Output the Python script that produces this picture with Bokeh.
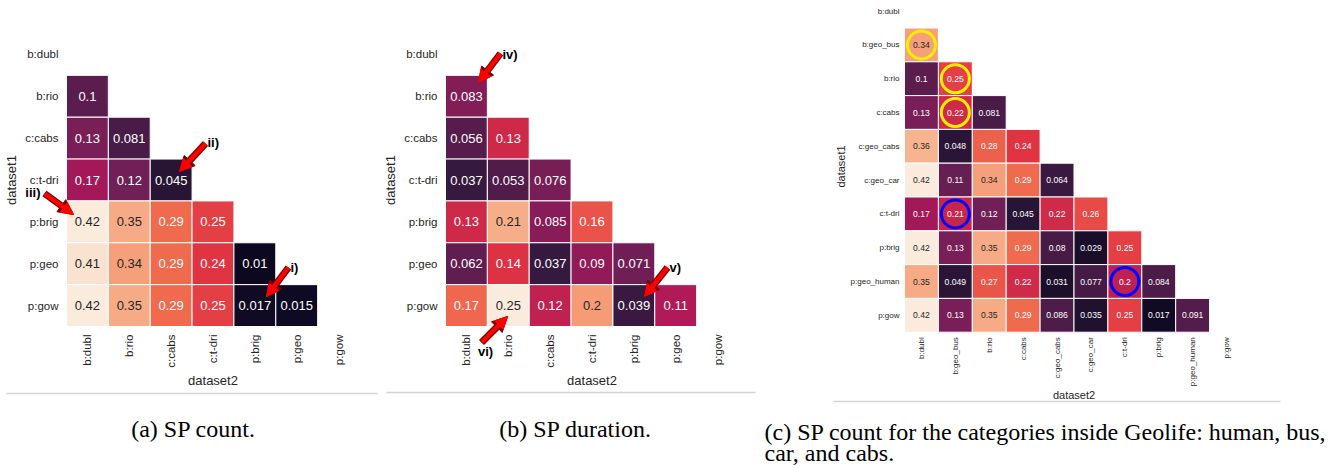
import numpy as np
from bokeh.plotting import figure
from bokeh.layouts import row
from bokeh.models import (ColumnDataSource, Range1d, FixedTicker, LinearColorMapper,
                          Label, Arrow, NormalHead)
from bokeh.embed import file_html
from bokeh.resources import INLINE
from bokeh.core.properties import value

# ---------------- data ----------------
labels_ab = ["b:dubl", "b:rio", "c:cabs", "c:t-dri", "p:brig", "p:geo", "p:gow"]
sp_count = [
    [],
    [0.1],
    [0.13, 0.081],
    [0.17, 0.12, 0.045],
    [0.42, 0.35, 0.29, 0.25],
    [0.41, 0.34, 0.29, 0.24, 0.01],
    [0.42, 0.35, 0.29, 0.25, 0.017, 0.015],
]
sp_duration = [
    [],
    [0.083],
    [0.056, 0.13],
    [0.037, 0.053, 0.076],
    [0.13, 0.21, 0.085, 0.16],
    [0.062, 0.14, 0.037, 0.09, 0.071],
    [0.17, 0.25, 0.12, 0.2, 0.039, 0.11],
]
labels_c = ["b:dubl", "b:geo_bus", "b:rio", "c:cabs", "c:geo_cabs", "c:geo_car",
            "c:t-dri", "p:brig", "p:geo_human", "p:gow"]
sp_count_geo = [
    [],
    [0.34],
    [0.1, 0.25],
    [0.13, 0.22, 0.081],
    [0.36, 0.048, 0.28, 0.24],
    [0.42, 0.11, 0.34, 0.29, 0.064],
    [0.17, 0.21, 0.12, 0.045, 0.22, 0.26],
    [0.42, 0.13, 0.35, 0.29, 0.08, 0.029, 0.25],
    [0.35, 0.049, 0.27, 0.22, 0.031, 0.077, 0.2, 0.084],
    [0.42, 0.13, 0.35, 0.29, 0.086, 0.035, 0.25, 0.017, 0.091],
]
# highlighted cells (dataset1, dataset2)
yellow_cells = [("b:geo_bus", "b:dubl"), ("b:rio", "b:geo_bus"), ("c:cabs", "b:geo_bus")]
blue_cells = [("c:t-dri", "b:geo_bus"), ("p:geo_human", "c:t-dri")]

captions = ["(a) SP count.", "(b) SP duration.",
            "(c) SP count for the categories inside Geolife: human, bus,", "car, and cabs."]

COLOR_LOW = 0.0  # colour scale starts at zero (diagonal of the similarity matrix)

# ---------------- colour map (rocket-like) ----------------
ROCKET = ["#03051a", "#35193e", "#701f57", "#ad1759", "#e13342", "#f37651", "#f6b48f", "#faebdd"]
stops = np.array([[int(h[i:i + 2], 16) for i in (1, 3, 5)] for h in ROCKET], dtype=float)
pos = np.linspace(0, 1, len(stops))
tt = np.linspace(0, 1, 256)
pal_rgb = np.stack([np.interp(tt, pos, stops[:, k]) for k in range(3)], axis=1)
palette = ["#%02x%02x%02x" % tuple(int(round(c)) for c in rgb) for rgb in pal_rgb]


def rel_lum(hexc):
    rgb = np.array([int(hexc[i:i + 2], 16) for i in (1, 3, 5)]) / 255.0
    lin = np.where(rgb <= 0.03928, rgb / 12.92, ((rgb + 0.055) / 1.055) ** 2.4)
    return float(lin @ np.array([0.2126, 0.7152, 0.0722]))


SANS = "Liberation Sans"
SERIF = "Liberation Serif"
DARK = "#262626"
PAGE_TOP, H = 0, 468


def dx(g, X):
    return (X - g["fl"]) / g["cx"] - 0.5


def dy(g, Y):
    return (Y - g["ft"]) / g["cy"] - 0.5


def heat(labels, vals, g):
    n = len(labels)
    flat = [v for r in vals for v in r]
    lo, hi = COLOR_LOW, max(flat)
    xs, ys, vs, ts, tcs = [], [], [], [], []
    for i, r in enumerate(vals):
        for j, v in enumerate(r):
            xs.append(j)
            ys.append(i)
            vs.append(v)
            ts.append(f"{v:.2g}")
            k = min(255, int((v - lo) / (hi - lo) * 256))
            tcs.append(DARK if rel_lum(palette[k]) > 0.408 else "#ffffff")
    src = ColumnDataSource(dict(x=xs, y=ys, v=vs, t=ts, tc=tcs))
    mapper = LinearColorMapper(palette=palette, low=lo, high=hi)
    W = g["w"]
    p = figure(width=W, height=H, min_border=0,
               x_range=Range1d(dx(g, g["cl"]), dx(g, g["cl"] + W)),
               y_range=Range1d(dy(g, PAGE_TOP + H), dy(g, PAGE_TOP)),
               output_backend="svg", toolbar_location=None, tools="")
    p.outline_line_color = None
    p.grid.visible = False
    p.background_fill_color = "white"
    p.border_fill_color = "white"
    p.rect(x="x", y="y", width=1, height=1, source=src,
           fill_color={"field": "v", "transform": mapper},
           line_color="white", line_width=1)
    p.text(x="x", y="y", text="t", text_color="tc", source=src,
           text_align="center", text_baseline="middle",
           text_font=value(SANS), text_font_size=g["fs_val"])
    for ax in (p.xaxis[0], p.yaxis[0]):
        ax.ticker = FixedTicker(ticks=list(range(n)), minor_ticks=[])
        ax.major_label_overrides = {i: lab for i, lab in enumerate(labels)}
        ax.bounds = (-0.5, n - 0.5)
        ax.fixed_location = n - 0.5 if ax is p.xaxis[0] else -0.5
        ax.axis_line_color = None
        ax.major_tick_line_color = None
        ax.minor_tick_line_color = None
        ax.major_tick_out = 0
        ax.major_tick_in = 0
        ax.minor_tick_out = 0
        ax.minor_tick_in = 0
        ax.major_label_text_font = SANS
        ax.major_label_text_font_size = g["fs_tick"]
        ax.major_label_text_color = DARK
        ax.major_label_standoff = g["tick_standoff"]
        ax.axis_label_text_font = SANS
        ax.axis_label_text_font_style = "normal"
        ax.axis_label_text_font_size = g["fs_axis"]
        ax.axis_label_text_color = DARK
    p.xaxis.major_label_orientation = np.pi / 2
    p.xaxis.axis_label = "dataset2"
    p.xaxis.axis_label_standoff = g["xlab_standoff"]
    p.yaxis.axis_label = "dataset1"
    p.yaxis.axis_label_standoff = g["ylab_standoff"]
    return p


def add_arrow(p, g, tail, head):
    x0, y0 = dx(g, tail[0]), dy(g, tail[1])
    x1, y1 = dx(g, head[0]), dy(g, head[1])
    p.add_layout(Arrow(x_start=x0, y_start=y0, x_end=x1, y_end=y1,
                       line_color="#7a0000", line_width=7,
                       end=NormalHead(size=15, fill_color="#7a0000", line_color="#7a0000")))
    p.add_layout(Arrow(x_start=x0, y_start=y0, x_end=x1, y_end=y1,
                       line_color="#ff0000", line_width=4.5,
                       end=NormalHead(size=12, fill_color="#ff0000", line_color="#ff0000")))


def add_text(p, g, X, Y, text, align="left", size="13px", font=SANS, style="bold",
             color="black", baseline="middle"):
    p.add_layout(Label(x=dx(g, X), y=dy(g, Y), text=text, text_align=align,
                       text_baseline=baseline, text_font=font, text_font_size=size,
                       text_font_style=style, text_color=color))


def add_rule(p, g, X0, X1, Y):
    p.add_layout(Arrow(x_start=dx(g, X0), y_start=dy(g, Y), x_end=dx(g, X1), y_end=dy(g, Y),
                       end=None, start=None, line_color="#d4d4d4", line_width=1.5))


def caption(p, g, X, Y, text, align):
    add_text(p, g, X, Y, text, align=align, size="24px", font=SERIF, style="normal",
             color="black", baseline="alphabetic")


# ---------------- panel geometry (page pixels) ----------------
cab = 293 / 7
gA = dict(cl=0, w=383, fl=66, ft=33, cx=cab, cy=cab,
          fs_tick="11.5px", fs_val="13px", fs_axis="13px",
          tick_standoff=8, xlab_standoff=2, ylab_standoff=3)
gB = dict(cl=383, w=377, fl=445, ft=33, cx=cab, cy=cab,
          fs_tick="11.5px", fs_val="13px", fs_axis="13px",
          tick_standoff=8, xlab_standoff=2, ylab_standoff=3)
gC = dict(cl=760, w=580, fl=904, ft=-6.3, cx=33.9, cy=33.8,
          fs_tick="8px", fs_val="8.6px", fs_axis="11px",
          tick_standoff=5, xlab_standoff=0, ylab_standoff=1)

# ---------------- panel (a) ----------------
pa = heat(labels_ab, sp_count, gA)
add_arrow(pa, gA, (205, 143), (179, 171))
add_text(pa, gA, 207, 142, "ii)")
add_arrow(pa, gA, (44, 193), (73, 214))
add_text(pa, gA, 40, 192, "iii)", align="right")
add_arrow(pa, gA, (288, 267), (266, 296))
add_text(pa, gA, 290, 267, "i)")
add_rule(pa, gA, 6, 377, 393)
caption(pa, gA, 193, 428, captions[0], "center")

# ---------------- panel (b) ----------------
pb = heat(labels_ab, sp_duration, gB)
add_arrow(pb, gB, (500, 53), (478, 82))
add_text(pb, gB, 502, 54, "iv)")
add_arrow(pb, gB, (667, 267), (644, 296))
add_text(pb, gB, 669, 267, "v)")
add_arrow(pb, gB, (481, 342), (507, 316))
add_text(pb, gB, 485, 351, "vi)", align="center")
add_rule(pb, gB, 386, 755, 392)
caption(pb, gB, 575, 428, captions[1], "center")

# ---------------- panel (c) ----------------
pc = heat(labels_c, sp_count_geo, gC)
idx = {lab: i for i, lab in enumerate(labels_c)}
for cells, col in ((yellow_cells, "#ffee00"), (blue_cells, "#0000ff")):
    pc.scatter(x=[idx[c[1]] for c in cells], y=[idx[c[0]] for c in cells],
               marker="circle", size=28, fill_color=None, line_color=col, line_width=3)
add_rule(pc, gC, 833, 1280, 401)
caption(pc, gC, 764, 431, captions[2], "left")
caption(pc, gC, 764, 452, captions[3], "left")

layout = row(pa, pb, pc, spacing=0)
open("out.html", "w").write(file_html(layout, INLINE))
